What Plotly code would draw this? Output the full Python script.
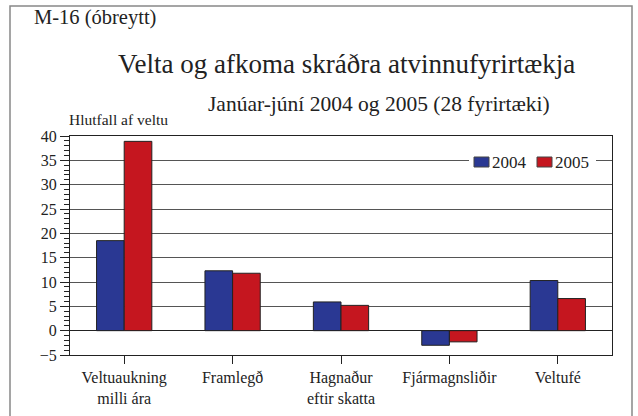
import plotly.graph_objects as go

categories = ["Veltuaukning<br>milli ára", "Framlegð", "Hagnaður<br>eftir skatta", "Fjármagnsliðir", "Veltufé"]
series_names = ["2004", "2005"]
values_2004 = [18.5, 12.3, 5.9, -3.0, 10.3]
values_2005 = [38.9, 11.8, 5.2, -2.3, 6.6]
y_ticks = [-5, 0, 5, 10, 15, 20, 25, 30, 35, 40]

FONT = "'Liberation Serif', 'Times New Roman', 'DejaVu Serif', serif"
BLUE = "#2a3893"
RED = "#c5161f"
INK = "#222"

fig = go.Figure()
fig.add_trace(go.Bar(x=categories, y=values_2004, name=series_names[0],
                     marker=dict(color=BLUE, line=dict(color=INK, width=1))))
fig.add_trace(go.Bar(x=categories, y=values_2005, name=series_names[1],
                     marker=dict(color=RED, line=dict(color=INK, width=1))))

L, R, T, B = 70, 612, 136, 355
W, H = 638, 416
pw, ph = R - L, B - T

def px(x):
    return (x - L) / pw

def py(y):
    return (B - y) / ph

fig.update_layout(
    width=W, height=H,
    margin=dict(l=L, r=W - R, t=T, b=H - B, autoexpand=False),
    paper_bgcolor="white", plot_bgcolor="white",
    font=dict(family=FONT, size=16, color=INK),
    barmode="group", bargap=0.49, bargroupgap=0,
    showlegend=False,
    modebar=dict(bgcolor="rgba(0,0,0,0)", color="rgba(0,0,0,0)", activecolor="rgba(0,0,0,0)"),
    xaxis=dict(showline=True, linecolor=INK, linewidth=1, mirror=True,
               ticks="outside", ticklen=8, tickcolor=INK,
               tickfont=dict(size=16, family=FONT, color=INK)),
    yaxis=dict(range=[-5, 40], tickvals=y_ticks, ticks="outside", ticklen=9, tickcolor=INK,
               showline=True, linecolor=INK, linewidth=1, mirror=True,
               showgrid=True, gridcolor="#555", gridwidth=1,
               zeroline=True, zerolinecolor=INK, zerolinewidth=1,
               minor=dict(dtick=1, ticks="outside", ticklen=5, tickcolor=INK, showgrid=False),
               tickfont=dict(size=16, family=FONT, color=INK)),
)

# outer frame
fig.add_shape(type="rect", xref="paper", yref="paper",
              x0=px(10), x1=px(632), y0=py(425), y1=py(6),
              line=dict(color="#888", width=1.5), fillcolor="rgba(0,0,0,0)", layer="below")

# legend (drawn by hand to match the compact original layout)
fig.add_shape(type="rect", xref="paper", yref="paper",
              x0=px(469), x1=px(596), y0=py(170), y1=py(154),
              line=dict(width=0), fillcolor="white", layer="above")
legend_items = [(series_names[0], BLUE, 474), (series_names[1], RED, 537)]
for name, color, x0 in legend_items:
    fig.add_shape(type="rect", xref="paper", yref="paper",
                  x0=px(x0), x1=px(x0 + 15), y0=py(167), y1=py(157),
                  line=dict(color="#444", width=1), fillcolor=color, layer="above")
    fig.add_annotation(text=name, xref="paper", yref="paper", x=px(x0 + 16), y=py(162),
                       xanchor="left", yanchor="middle", showarrow=False,
                       font=dict(size=17, family=FONT, color=INK))

fig.add_annotation(text="M-16 (óbreytt)", xref="paper", yref="paper", x=px(32), y=py(17),
                   xanchor="left", yanchor="middle", showarrow=False,
                   font=dict(size=20.5, family=FONT, color=INK))
fig.add_annotation(text="Velta og afkoma skráðra atvinnufyrirtækja", xref="paper", yref="paper",
                   x=px(346), y=py(64), xanchor="center", yanchor="middle", showarrow=False,
                   font=dict(size=27, family=FONT, color=INK))
fig.add_annotation(text="Janúar-júní 2004 og 2005 (28 fyrirtæki)", xref="paper", yref="paper",
                   x=px(379), y=py(104), xanchor="center", yanchor="middle", showarrow=False,
                   font=dict(size=21.5, family=FONT, color=INK))
fig.add_annotation(text="Hlutfall af veltu", xref="paper", yref="paper",
                   x=px(67), y=py(119), xanchor="left", yanchor="middle", showarrow=False,
                   font=dict(size=15.5, family=FONT, color=INK))

fig.write_html("out.html", config={"displaylogo": False},
               post_script="document.body.style.margin='0';")
